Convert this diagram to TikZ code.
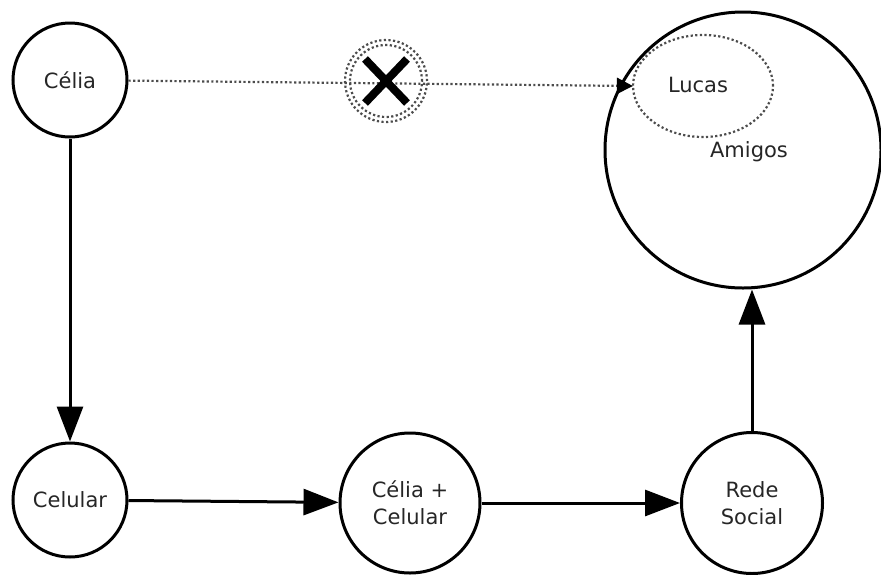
\documentclass[tikz,border=0pt]{standalone}
\usepackage{fontspec}
\setmainfont{DejaVu Sans}
\usetikzlibrary{arrows.meta,shapes.geometric,calc}
\begin{document}
\begin{tikzpicture}[x=1pt,y=-1pt,
  every node/.style={font=\fontsize{21}{27}\selectfont, text=black!85},
  state/.style={circle, draw=black, line width=3pt, align=center, inner sep=0pt},
  flow/.style={line width=3pt, -{Triangle[length=35pt,width=26pt]}},
  dotline/.style={draw=black!70, line width=2.2pt, dash pattern=on 2.2pt off 2.4pt},
  ]
\useasboundingbox (0,0) rectangle (881,574);
\node[state, minimum size=114pt] (celia) at (70,80) {Célia};
\node[state, minimum size=114pt] (celular) at (70,500) {Celular};
\node[state, minimum size=140pt] (cc) at (410,503) {Célia +\\Celular};
\node[state, minimum size=141pt] (rede) at (752,503) {Rede\\Social};
\node[state, minimum size=276pt] (amigos) at (743,150) {};
\node at (749,152) (amigostxt) {Amigos};
\node[ellipse, dotline, minimum width=140pt, minimum height=102pt] (lucas) at (703,86) {};
\node at (698,85) (lucastxt) {Lucas};
\coordinate (blk) at (386,81);
\draw[dotline, -{Triangle[length=16pt,width=16pt,fill=black,color=black,sep=-1pt]}] (celia) -- (lucas.west);
\draw[dotline] (blk) circle (41pt);
\draw[dotline] (blk) circle (36pt);
\draw[line width=8pt] ($(blk)+(-21,-22)$) -- ($(blk)+(21,22)$);
\draw[line width=8pt] ($(blk)+(21,-22)$) -- ($(blk)+(-21,22)$);
\draw[flow] (celia) -- (celular);
\draw[flow] (celular) -- (cc);
\draw[flow] (cc) -- (rede);
\draw[flow] (rede) -- (rede |- amigos.south);
\end{tikzpicture}
\end{document}
